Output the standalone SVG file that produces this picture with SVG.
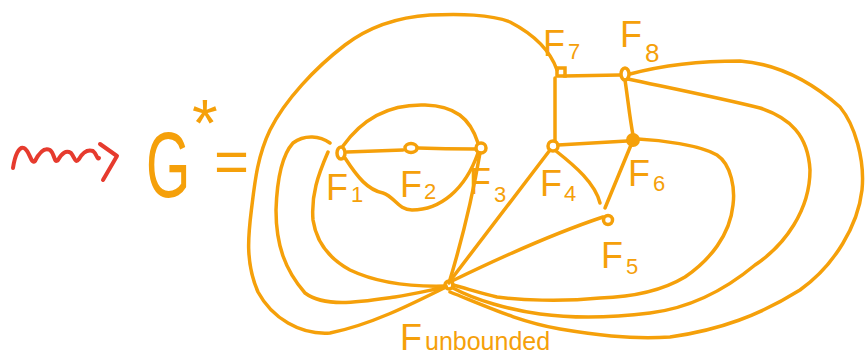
<svg xmlns="http://www.w3.org/2000/svg" width="866" height="358" viewBox="0 0 866 358">
<style>
.e{fill:none;stroke:#f5a00a;stroke-width:3.5;stroke-linecap:round;stroke-linejoin:round}
.n{fill:none;stroke:#f5a00a;stroke-width:3.5}
.nf{fill:#f5a00a;stroke:#f5a00a;stroke-width:3}
.lb{font-family:"Liberation Sans",Arial,sans-serif;font-size:36px;fill:#f5a00a}
.sb{font-family:"Liberation Sans",Arial,sans-serif;font-size:22px;fill:#f5a00a}
.r{fill:none;stroke:#e63b2e;stroke-width:4;stroke-linecap:round;stroke-linejoin:round}
</style>
<rect width="866" height="358" fill="#ffffff"/>
<g id="title">
<path class="r" d="M13,168 C15,155 19,146 24,148 C30,151 31,165 35,161 C39,153 44,147 50,150 C55,154 54,164 58,160 C62,153 66,150 71,153 C75,158 75,164 79,159 C83,152 87,149 93,151 C97,154 97,160 99,158"/>
<path class="r" d="M100,144 L117,156 L103,180"/>
<text transform="translate(146,197) scale(0.62,1)" style="font-family:'Liberation Sans',Arial,sans-serif;font-size:92px;fill:#f5a00a">G</text>
<text x="192" y="146" style="font-family:'Liberation Sans',Arial,sans-serif;font-size:66px;fill:#f5a00a">*</text>
<text x="214" y="182" style="font-family:'Liberation Sans',Arial,sans-serif;font-size:60px;fill:#f5a00a">=</text>
</g>
<g id="connectors">
<path class="e" d="M347,152 L403,150"/>
<path class="e" d="M418,148 Q445,149 475,149"/>
<path class="e" d="M343,146 C365,115 395,104 425,105 C455,106 470,118 478,143"/>
<path class="e" d="M345,158 C358,178 368,190 383,193 C395,197 398,210 412,210 C440,210 465,190 478,153"/>
<path class="e" d="M480,153 C472,200 462,240 449,283"/>
<path class="e" d="M550,150 L450,281"/>
<path class="e" d="M556,151 C575,166 595,183 600,203"/>
<path class="e" d="M631,145 L605,208"/>
<path class="e" d="M603,217 C570,228 520,248 452,281"/>
<path class="e" d="M558,145 L627,141"/>
<path class="e" d="M555,141 L555,78"/>
<path class="e" d="M564,76 L620,75"/>
<path class="e" d="M625,80 C628,100 630,120 633,135"/>
<path class="e" d="M557,70 C550,50 535,35 510,22 C490,14 460,14 430,15 C400,17 370,26 345,45 C315,68 285,100 270,130 C258,155 255,180 252,205 C249,230 244,260 258,292 C272,318 300,335 330,333 C370,325 410,305 446,287"/>
<path class="e" d="M330,143 C320,136 305,134 293,143 C282,155 277,180 276,210 C276,245 285,270 305,293 C325,308 360,302 395,297 C415,294 430,290 446,287"/>
<path class="e" d="M328,152 C318,175 311,195 313,220 C316,240 328,258 350,270 C375,282 410,287 446,286"/>
<path class="e" d="M638,139 C660,140 700,145 717,155 C732,165 735,190 733,205 C730,235 710,260 685,277 C660,292 630,297 600,298 C560,302 520,300 497,297 C480,293 465,288 453,285"/>
<path class="e" d="M628,79 C670,88 720,98 760,108 C790,118 808,135 810,170 C810,210 785,245 755,265 C725,290 690,308 650,313 C610,318 570,318 540,314 C510,310 475,300 453,288"/>
<path class="e" d="M630,74 C660,66 700,61 740,61 C780,64 815,85 840,107 C855,125 865,160 862,190 C858,225 835,265 800,290 C760,315 720,330 670,337 C630,340 590,334 560,329 C520,322 490,308 450,292"/>
</g>
<g id="F1"><ellipse class="n" cx="341" cy="153" rx="4" ry="6"/><text class="lb" x="326" y="200">F</text><text class="sb" x="351" y="202">1</text></g>
<g id="F2"><ellipse class="n" cx="411" cy="148" rx="6" ry="4.5"/><text class="lb" x="400" y="197">F</text><text class="sb" x="424" y="199">2</text></g>
<g id="F3"><circle class="n" cx="481" cy="148" r="5"/><text class="lb" x="469" y="194">F</text><text class="sb" x="494" y="202">3</text></g>
<g id="F4"><circle class="n" cx="553" cy="146" r="5"/><text class="lb" x="540" y="196">F</text><text class="sb" x="564" y="201">4</text></g>
<g id="F5"><circle class="n" cx="608" cy="220" r="4.5"/><text class="lb" x="601" y="268">F</text><text class="sb" x="626" y="274">5</text></g>
<g id="F6"><circle class="nf" cx="633" cy="140" r="5.5"/><text class="lb" x="628" y="186">F</text><text class="sb" x="653" y="191">6</text></g>
<g id="F7"><rect class="n" x="557" y="68" width="8" height="8"/><text class="lb" x="543" y="56">F</text><text class="sb" x="568" y="59">7</text></g>
<g id="F8"><ellipse class="n" cx="625" cy="74" rx="4" ry="6"/><text class="lb" x="620" y="47">F</text><text class="sb" style="font-size:26px" x="645" y="62">8</text></g>
<g id="Funbounded"><circle class="n" cx="449" cy="285" r="4"/><text class="lb" x="400" y="350">F</text><text class="sb" style="font-size:25px" x="425" y="350">unbounded</text></g>
</svg>
